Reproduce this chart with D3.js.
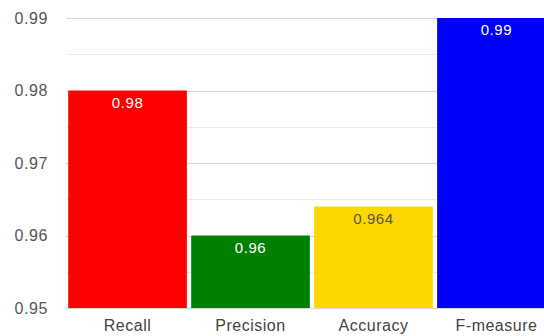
<!DOCTYPE html>
<html>
<head>
<meta charset="utf-8">
<script src="https://cdn.jsdelivr.net/npm/d3@7/dist/d3.min.js"></script>
<style>
  body { margin: 0; background: #fff; overflow: hidden; }
  svg { display: block; font-family: "Liberation Sans", Arial, sans-serif; }
</style>
</head>
<body>
<div id="chart"></div>
<script>
// data
var categories = ["Recall", "Precision", "Accuracy", "F-measure"];
var values = [0.98, 0.96, 0.964, 0.99];
var labels = ["0.98", "0.96", "0.964", "0.99"];
var colors = ["#ff0000", "#008000", "#ffd700", "#0000ff"];
var labelColors = ["#ffffff", "#ffffff", "#555555", "#ffffff"];
var yTicks = [0.95, 0.96, 0.97, 0.98, 0.99];
var yMinor = [0.955, 0.965, 0.975, 0.985];

var W = 544, H = 336;
var margin = {top: 18, right: 0, bottom: 28, left: 66},
    plotW = 492,
    height = H - margin.top - margin.bottom;

var svg = d3.select("#chart")
    .append("svg")
        .attr("width", W)
        .attr("height", H)
    .append("g")
        .attr("transform", "translate(" + margin.left + "," + margin.top + ")");

var x = d3.scaleBand().domain(categories).range([0, plotW]).paddingInner(0.035).paddingOuter(0.018);
var y = d3.scaleLinear().domain([0.95, 0.99]).range([height, 0]);

// minor grid
svg.selectAll(".minor")
    .data(yMinor)
  .enter().append("line")
    .attr("x1", 0).attr("x2", plotW)
    .attr("y1", function(d) { return Math.round(y(d)) + 0.5; })
    .attr("y2", function(d) { return Math.round(y(d)) + 0.5; })
    .attr("stroke", "#ebebeb");

// major grid
svg.selectAll(".major")
    .data(yTicks)
  .enter().append("line")
    .attr("x1", 0).attr("x2", plotW)
    .attr("y1", function(d) { return Math.round(y(d)) + 0.5; })
    .attr("y2", function(d) { return Math.round(y(d)) + 0.5; })
    .attr("stroke", "#d6d6d6");

// y axis labels
var yAxis = d3.axisLeft(y).tickValues(yTicks).tickSize(0).tickPadding(18)
    .tickFormat(d3.format(".2f"));
var gy = svg.append("g").call(yAxis);
gy.select(".domain").remove();
gy.selectAll("text").attr("font-size", 16).attr("fill", "#555555")
    .attr("letter-spacing", 0.6)
    .attr("font-family", "Liberation Sans, Arial, sans-serif");

// bars
svg.selectAll(".bar")
    .data(values)
  .enter().append("rect")
    .attr("x", function(d, i) { return x(categories[i]); })
    .attr("width", x.bandwidth())
    .attr("y", function(d) { return y(d); })
    .attr("height", function(d) { return height - y(d); })
    .attr("fill", function(d, i) { return colors[i]; });

// value labels
svg.selectAll(".val")
    .data(values)
  .enter().append("text")
    .attr("x", function(d, i) { return x(categories[i]) + x.bandwidth() / 2; })
    .attr("y", function(d) { return y(d) + 17; })
    .attr("text-anchor", "middle")
    .attr("font-size", 15)
    .attr("letter-spacing", 0.6)
    .attr("fill", function(d, i) { return labelColors[i]; })
    .text(function(d, i) { return labels[i]; });

// x axis labels
var xAxis = d3.axisBottom(x).tickSize(0).tickPadding(12);
var gx = svg.append("g")
    .attr("transform", "translate(0," + height + ")")
    .call(xAxis);
gx.select(".domain").remove();
gx.selectAll("text").attr("font-size", 16).attr("fill", "#444444")
    .attr("letter-spacing", 0.5)
    .attr("font-family", "Liberation Sans, Arial, sans-serif");
</script>
</body>
</html>
